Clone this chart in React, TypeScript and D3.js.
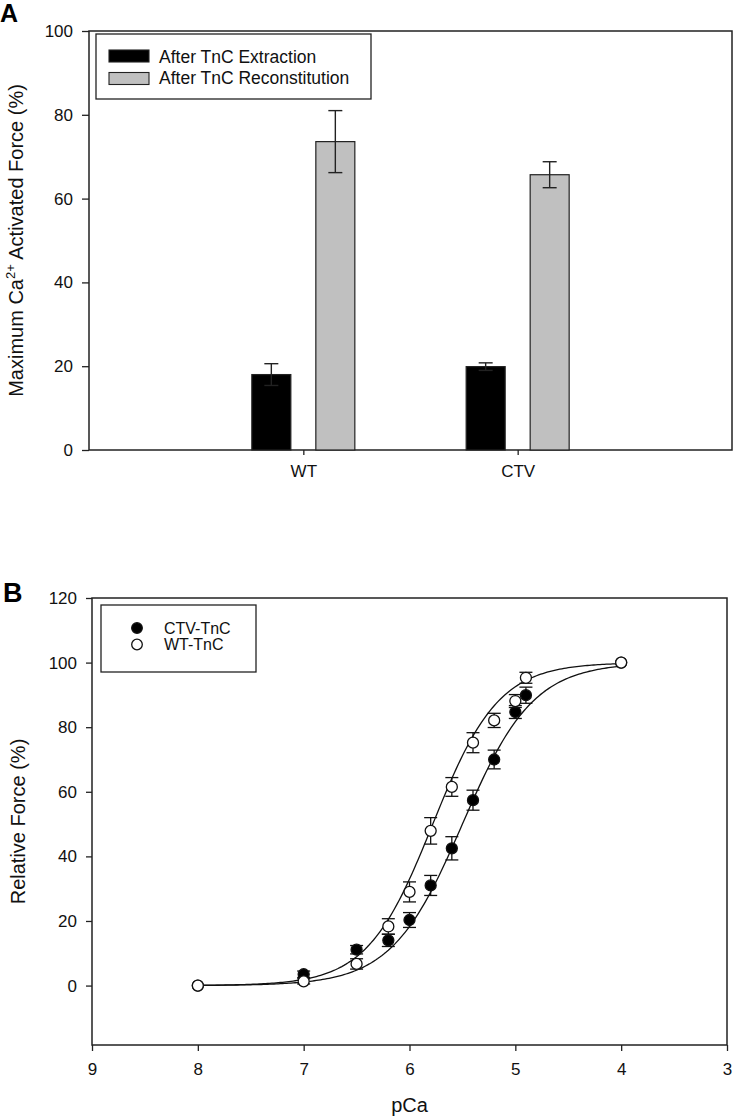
import * as d3 from 'd3';
import React, { useEffect, useRef } from 'react';

// ---- panel A data (mean, SE) ----
const groups = ['WT', 'CTV'];
const barSeries = ['After TnC Extraction', 'After TnC Reconstitution'];
const extractionMean = [18.0, 19.9];
const extractionSE = [2.6, 0.9];
const reconMean = [73.6, 65.7];
const reconSE = [7.4, 3.1];
const barTicksY = [0, 20, 40, 60, 80, 100];

// ---- panel B data ----
const pCaWT = [8.0, 7.0, 6.5, 6.2, 6.0, 5.8, 5.6, 5.4, 5.2, 5.0, 4.9, 4.0];
const forceWT = [0, 1.3, 6.7, 18.3, 29.0, 47.9, 61.5, 75.2, 82.1, 88.1, 95.3, 100];
const errWT = [0, 0.8, 1.6, 2.4, 3.1, 4.1, 2.9, 3.1, 2.2, 2.0, 1.7, 0];
const pCaCTV = [8.0, 7.0, 6.5, 6.2, 6.0, 5.8, 5.6, 5.4, 5.2, 5.0, 4.9, 4.0];
const forceCTV = [0, 3.5, 11.1, 14.0, 20.3, 31.0, 42.5, 57.4, 70.0, 84.7, 89.9, 100];
const errCTV = [0, 1.0, 1.3, 1.9, 2.3, 3.1, 3.6, 3.1, 2.9, 2.0, 2.5, 0];
// Hill fit parameters (pCa50, n)
const fitWT = { pCa50: 5.78, n: 1.4 };
const fitCTV = { pCa50: 5.5, n: 1.3 };
const pcaTicks = [9, 8, 7, 6, 5, 4, 3];
const forceTicks = [0, 20, 40, 60, 80, 100, 120];

const FONT = "'Liberation Sans', Arial, sans-serif";
const INK = '#222';

function hill(p, fit) {
    return 100 / (1 + Math.pow(10, fit.n * (p - fit.pCa50)));
}

function App() {
    const ref = useRef(null);

    useEffect(() => {
        const svg = d3.select(ref.current);
        svg.selectAll('*').remove();

        // ================= Panel A =================
        const a = { left: 89, right: 732, top: 31, bottom: 450 };
        const xA = d3.scaleLinear().domain([0, 3]).range([a.left, a.right]);
        const yA = d3.scaleLinear().domain([0, 100]).range([a.bottom, a.top]);
        const gA = svg.append('g');

        gA.append('text').attr('x', 0).attr('y', 22)
            .attr('font-family', FONT).attr('font-weight', 'bold').attr('font-size', 25)
            .text('A');

        const yAxisA = gA.append('g').attr('transform', 'translate(' + a.left + ',0)')
            .call(d3.axisLeft(yA).tickValues(barTicksY).tickSize(7).tickPadding(9).tickFormat(d3.format('d')));
        const xAxisA = gA.append('g').attr('transform', 'translate(0,' + a.bottom + ')')
            .call(d3.axisBottom(xA).tickValues([1, 2]).tickSize(5).tickPadding(10).tickFormat((d, i) => groups[i]));
        [yAxisA, xAxisA].forEach(ax => {
            ax.select('.domain').remove();
            ax.selectAll('line').attr('stroke', INK).attr('stroke-width', 1.3);
            ax.selectAll('text').attr('font-family', FONT).attr('font-size', 17).attr('fill', '#111');
        });

        // frame
        gA.append('rect').attr('x', a.left).attr('y', a.top)
            .attr('width', a.right - a.left).attr('height', a.bottom - a.top)
            .attr('fill', 'none').attr('stroke', INK).attr('stroke-width', 1.5);

        const barW = 39;
        const offset = 32;
        const bars = [];
        groups.forEach((g, i) => {
            bars.push({ cx: xA(i + 1) - offset, v: extractionMean[i], e: extractionSE[i], fill: '#000' });
            bars.push({ cx: xA(i + 1) + offset, v: reconMean[i], e: reconSE[i], fill: '#c0c0c0' });
        });

        gA.selectAll('.bar').data(bars).enter().append('rect')
            .attr('class', 'bar')
            .attr('x', d => d.cx - barW / 2)
            .attr('y', d => yA(d.v))
            .attr('width', barW)
            .attr('height', d => yA(0) - yA(d.v))
            .attr('fill', d => d.fill)
            .attr('stroke', INK).attr('stroke-width', 1.2);

        const capA = 7;
        bars.forEach(d => {
            const eg = gA.append('g').attr('stroke', INK).attr('stroke-width', 1.4);
            eg.append('line').attr('x1', d.cx).attr('x2', d.cx).attr('y1', yA(d.v - d.e)).attr('y2', yA(d.v + d.e));
            eg.append('line').attr('x1', d.cx - capA).attr('x2', d.cx + capA).attr('y1', yA(d.v + d.e)).attr('y2', yA(d.v + d.e));
            eg.append('line').attr('x1', d.cx - capA).attr('x2', d.cx + capA).attr('y1', yA(d.v - d.e)).attr('y2', yA(d.v - d.e));
        });

        // legend A
        const legA = gA.append('g');
        legA.append('rect').attr('x', 96).attr('y', 34).attr('width', 275).attr('height', 65)
            .attr('fill', '#fff').attr('stroke', INK).attr('stroke-width', 1.3);
        barSeries.forEach((s, i) => {
            legA.append('rect').attr('x', 109).attr('y', 50 + i * 22.5).attr('width', 40).attr('height', 12)
                .attr('fill', i === 0 ? '#000' : '#c0c0c0').attr('stroke', INK).attr('stroke-width', 1.1);
            legA.append('text').attr('x', 159).attr('y', 63 + i * 20.5)
                .attr('font-family', FONT).attr('font-size', 17.5).attr('fill', '#111').text(s);
        });

        // y label A
        const tA = gA.append('text')
            .attr('transform', 'translate(23,' + (a.top + a.bottom) / 2 + ') rotate(-90)')
            .attr('text-anchor', 'middle').attr('font-family', FONT).attr('font-size', 20).attr('fill', '#111');
        tA.append('tspan').text('Maximum Ca');
        tA.append('tspan').attr('font-size', 13).attr('dy', -8).text('2+');
        tA.append('tspan').attr('dy', 8).text(' Activated Force (%)');

        // ================= Panel B =================
        const b = { left: 92, right: 727, top: 598, bottom: 1045 };
        const xB = d3.scaleLinear().domain([9, 3]).range([b.left, b.right]);
        const yB = d3.scaleLinear().domain([-18.4, 120]).range([b.bottom, b.top]);
        const gB = svg.append('g');

        gB.append('text').attr('x', 3).attr('y', 602)
            .attr('font-family', FONT).attr('font-weight', 'bold').attr('font-size', 27)
            .text('B');

        const yAxisB = gB.append('g').attr('transform', 'translate(' + b.left + ',0)')
            .call(d3.axisLeft(yB).tickValues(forceTicks).tickSize(6).tickPadding(9).tickFormat(d3.format('d')));
        const xAxisB = gB.append('g').attr('transform', 'translate(0,' + b.bottom + ')')
            .call(d3.axisBottom(xB).tickValues(pcaTicks).tickSize(6).tickPadding(12).tickFormat(d3.format('d')));
        [yAxisB, xAxisB].forEach(ax => {
            ax.select('.domain').remove();
            ax.selectAll('line').attr('stroke', INK).attr('stroke-width', 1.3);
            ax.selectAll('text').attr('font-family', FONT).attr('font-size', 17).attr('fill', '#111');
        });

        gB.append('rect').attr('x', b.left).attr('y', b.top)
            .attr('width', b.right - b.left).attr('height', b.bottom - b.top)
            .attr('fill', 'none').attr('stroke', INK).attr('stroke-width', 1.5);

        // fitted curves
        const curveX = d3.range(8, 3.999, -0.02);
        const line = d3.line().x(d => xB(d[0])).y(d => yB(d[1])).curve(d3.curveLinear);
        [fitCTV, fitWT].forEach(fit => {
            gB.append('path').datum(curveX.map(p => [p, hill(p, fit)]))
                .attr('d', line).attr('fill', 'none').attr('stroke', '#111').attr('stroke-width', 1.3);
        });

        const capB = 6.5;
        const r = 5.5;
        const drawSeries = (ps, fs, es, filled) => {
            ps.forEach((p, i) => {
                const x = xB(p);
                if (es[i] > 0) {
                    const eg = gB.append('g').attr('stroke', '#111').attr('stroke-width', 1.3);
                    eg.append('line').attr('x1', x).attr('x2', x).attr('y1', yB(fs[i] - es[i])).attr('y2', yB(fs[i] + es[i]));
                    eg.append('line').attr('x1', x - capB).attr('x2', x + capB).attr('y1', yB(fs[i] + es[i])).attr('y2', yB(fs[i] + es[i]));
                    eg.append('line').attr('x1', x - capB).attr('x2', x + capB).attr('y1', yB(fs[i] - es[i])).attr('y2', yB(fs[i] - es[i]));
                }
                gB.append('circle').attr('cx', x).attr('cy', yB(fs[i])).attr('r', r)
                    .attr('fill', filled ? '#000' : '#fff').attr('stroke', '#111').attr('stroke-width', 1.3);
            });
        };
        drawSeries(pCaCTV, forceCTV, errCTV, true);
        drawSeries(pCaWT, forceWT, errWT, false);

        // legend B
        const legB = gB.append('g');
        legB.append('rect').attr('x', 101).attr('y', 605).attr('width', 155).attr('height', 67)
            .attr('fill', '#fff').attr('stroke', INK).attr('stroke-width', 1.3);
        ['CTV-TnC', 'WT-TnC'].forEach((s, i) => {
            legB.append('circle').attr('cx', 137).attr('cy', 628 + i * 16.5).attr('r', 5.3)
                .attr('fill', i === 0 ? '#000' : '#fff').attr('stroke', '#111').attr('stroke-width', 1.3);
            legB.append('text').attr('x', 164).attr('y', 633.5 + i * 16.5)
                .attr('font-family', FONT).attr('font-size', 16).attr('fill', '#111').text(s);
        });

        gB.append('text')
            .attr('transform', 'translate(25,' + (b.top + b.bottom) / 2 + ') rotate(-90)')
            .attr('text-anchor', 'middle').attr('font-family', FONT).attr('font-size', 20).attr('fill', '#111')
            .text('Relative Force (%)');
        gB.append('text').attr('x', (b.left + b.right) / 2).attr('y', 1112)
            .attr('text-anchor', 'middle').attr('font-family', FONT).attr('font-size', 20).attr('fill', '#111')
            .text('pCa');
    }, []);

    return (
        <div style={{ position: 'absolute', left: 0, top: 0 }}>
            <svg ref={ref} width={733} height={1119} style={{ display: 'block', background: '#fff' }}></svg>
        </div>
    );
}

export default App;
